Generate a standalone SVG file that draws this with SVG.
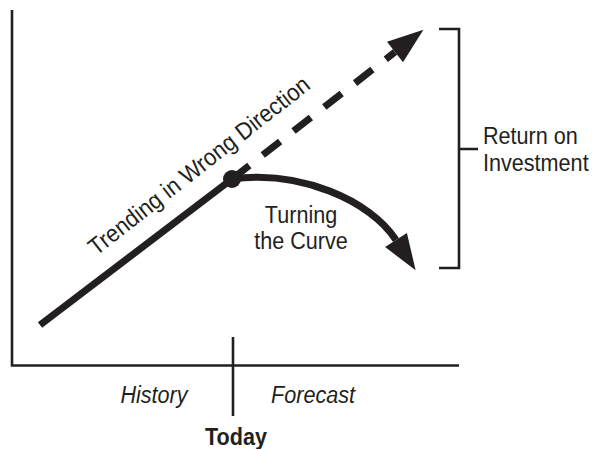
<svg xmlns="http://www.w3.org/2000/svg" width="592" height="449" viewBox="0 0 592 449">
<defs>
<style>
.ax{fill:none;stroke:#231f20;stroke-width:2.6;stroke-linecap:butt}
.thick{fill:none;stroke:#231f20;stroke-width:7;stroke-linecap:butt}
.dash{stroke-dasharray:22 17}
.t{font-family:"Liberation Sans",Arial,sans-serif;font-size:24px;fill:#231f20}
.it{font-style:italic}
.b{font-weight:bold}
</style>
<marker id="ah" viewBox="-1 -14 38 28" markerWidth="38" markerHeight="28" refX="0" refY="0" orient="auto" markerUnits="userSpaceOnUse">
<path d="M0,-13 L36,0 L0,13 Z" fill="#231f20"/>
</marker>
</defs>
<rect width="592" height="449" fill="#ffffff"/>
<g id="axes">
<path class="ax" d="M12,10 V366.5 M10.7,365.5 H459"/>
<path class="ax" d="M233,337 V416"/>
</g>
<g id="bracket">
<path class="ax" d="M439,29 H459 V268 H439 M459,149 H478"/>
</g>
<g id="connectors">
<path class="thick" d="M40,325 L232,179"/>
<path class="thick dash" d="M232,179 L395,52" marker-end="url(#ah)"/>
<path class="thick" d="M232,179 C300,170 370,200 396,240" marker-end="url(#ah)"/>
</g>
<g id="today-dot">
<circle cx="232" cy="179" r="9" fill="#231f20"/>
</g>
<g id="labels">
<text class="t" text-anchor="middle" transform="translate(204 172) rotate(-38) scale(0.92 1)">Trending in Wrong Direction</text>
<text class="t" text-anchor="middle" transform="translate(301 223) scale(0.9 1)">Turning</text>
<text class="t" text-anchor="middle" transform="translate(301 249) scale(0.9 1)">the Curve</text>
<text class="t" transform="translate(483 144) scale(0.9 1)">Return on</text>
<text class="t" transform="translate(483 171) scale(0.9 1)">Investment</text>
<text class="t it" text-anchor="middle" transform="translate(154 403) scale(0.9 1)">History</text>
<text class="t it" text-anchor="middle" transform="translate(313 403) scale(0.9 1)">Forecast</text>
<text class="t b" text-anchor="middle" transform="translate(236 445) scale(0.9 1)">Today</text>
</g>
</svg>
